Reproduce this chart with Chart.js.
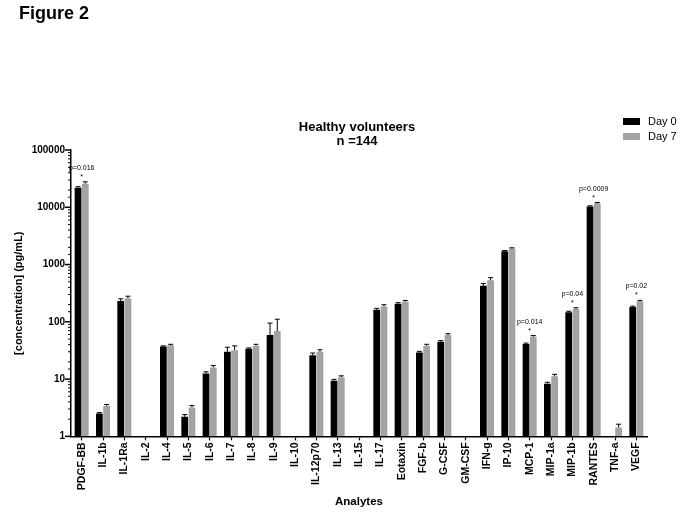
<!DOCTYPE html>
<html lang="en">
<head>
  <meta charset="UTF-8" />
  <title>Figure 2 | Healthy volunteers</title>
  <script src="https://cdn.jsdelivr.net/npm/chart.js"></script>
  <style>
    html, body { margin: 0; padding: 0; background: #fff; }
    .wrap { position: relative; width: 683px; height: 512px; font-family: "Liberation Sans", Arial, sans-serif; color: #000; }
    .wrap canvas { position: absolute; left: 0; top: 0; }
    .fig { position: absolute; left: 19px; top: 4px; font-size: 18px; font-weight: bold; line-height: 18px; }
    .title { position: absolute; left: 257px; width: 200px; top: 120px; text-align: center; font-size: 13px; font-weight: bold; line-height: 14px; }
    .legend { position: absolute; left: 623px; top: 114px; font-size: 11px; line-height: 15px; }
    .legend div { display: flex; align-items: center; }
    .legend span.box { display: inline-block; width: 17px; height: 7px; margin-right: 8px; }
  </style>
</head>
<body>
  <div class="wrap">
    <canvas id="cytoChart" width="683" height="512"></canvas>
    <div class="fig">Figure 2</div>
    <div class="title">Healthy volunteers<br>n =144</div>
    <div class="legend">
      <div><span class="box" style="background:#000"></span>Day 0</div>
      <div><span class="box" style="background:#a3a3a3"></span>Day 7</div>
    </div>
  </div>

  <script>
    // values (pg/mL, log scale); null = not detected
    const analytes = ['PDGF-BB', 'IL-1b', 'IL-1Ra', 'IL-2', 'IL-4', 'IL-5', 'IL-6', 'IL-7', 'IL-8', 'IL-9',
      'IL-10', 'IL-12p70', 'IL-13', 'IL-15', 'IL-17', 'Eotaxin', 'FGF-b', 'G-CSF', 'GM-CSF', 'IFN-g',
      'IP-10', 'MCP-1', 'MIP-1a', 'MIP-1b', 'RANTES', 'TNF-a', 'VEGF'];

    const day0 = [22000, 2.5, 230, null, 37, 2.2, 12.5, 30, 34, 59,
      null, 26, 9.4, null, 162, 207, 29, 45, null, 425,
      1700, 41, 8.3, 147, 10300, null, 182];
    const day7 = [25800, 3.4, 255, null, 39, 3.2, 16, 32, 38, 69,
      null, 30, 10.8, null, 185, 225, 38, 59, null, 530,
      1900, 55, 11.2, 168, 11700, 1.43, 228];

    // SEM (upper bar only)
    const day0Err = [900, 0.1, 22, null, 1, 0.2, 0.9, 6, 1, 36,
      null, 2.5, 0.5, null, 10, 9, 1.5, 2, null, 40,
      60, 1.5, 0.5, 6, 300, null, 6];
    const day7Err = [2000, 0.2, 25, null, 1.5, 0.25, 1.3, 6, 2.5, 42,
      null, 2.5, 0.6, null, 14, 11, 2.5, 3, null, 60,
      60, 2.5, 0.9, 8, 400, 0.2, 9];

    const sigAnalytes = ['PDGF-BB', 'MCP-1', 'MIP-1b', 'RANTES', 'VEGF'];
    const sigP = ['p=0.016', 'p=0.014', 'p=0.04', 'p=0.0009', 'p=0.02'];

    const FONT = '"Liberation Sans", Arial, sans-serif';

    function isDecade(v) {
      const l = Math.log10(v);
      return Math.abs(l - Math.round(l)) < 1e-9;
    }

    // minor y ticks, error bars and p-value labels
    const extras = {
      id: 'extras',
      afterDatasetsDraw(chart) {
        const ctx = chart.ctx;
        const xs = chart.scales.x, ys = chart.scales.y;
        ctx.save();
        ctx.strokeStyle = '#000';
        ctx.fillStyle = '#000';

        ys.ticks.forEach(t => {
          const py = ys.getPixelForValue(t.value);
          const major = isDecade(t.value);
          ctx.lineWidth = major ? 1.5 : 1;
          ctx.beginPath();
          ctx.moveTo(ys.right, py);
          ctx.lineTo(ys.right - (major ? 6 : 3), py);
          ctx.stroke();
        });

        ctx.lineWidth = 1;
        [day0Err, day7Err].forEach((errs, di) => {
          const vals = chart.data.datasets[di].data;
          chart.getDatasetMeta(di).data.forEach((bar, i) => {
            if (vals[i] == null || errs[i] == null) return;
            const top = ys.getPixelForValue(vals[i] + errs[i]);
            ctx.beginPath();
            ctx.moveTo(bar.x, bar.y);
            ctx.lineTo(bar.x, top);
            ctx.moveTo(bar.x - 2.5, top);
            ctx.lineTo(bar.x + 2.5, top);
            ctx.stroke();
          });
        });

        ctx.font = '7px ' + FONT;
        ctx.textAlign = 'center';
        ctx.textBaseline = 'alphabetic';
        sigAnalytes.forEach((name, k) => {
          const i = analytes.indexOf(name);
          const cx = xs.getPixelForValue(i);
          const top = Math.min(
            ys.getPixelForValue(day0[i] + (day0Err[i] || 0)),
            ys.getPixelForValue(day7[i] + (day7Err[i] || 0)));
          ctx.fillText(sigP[k], cx, top - 12);
          ctx.fillText('*', cx, top - 3);
        });
        ctx.restore();
      }
    };

    const ctx = document.getElementById('cytoChart').getContext('2d');

    new Chart(ctx, {
      type: 'bar',
      data: {
        labels: analytes,
        datasets: [
          { label: 'Day 0', data: day0, backgroundColor: '#000000', categoryPercentage: 0.68, barPercentage: 0.93 },
          { label: 'Day 7', data: day7, backgroundColor: '#a3a3a3', categoryPercentage: 0.68, barPercentage: 0.93 }
        ]
      },
      options: {
        responsive: false,
        animation: false,
        layout: { padding: { top: 150, left: 10, right: 36, bottom: 3 } },
        plugins: {
          legend: { display: false },
          title: { display: false },
          tooltip: { enabled: false }
        },
        scales: {
          x: {
            grid: { display: true, drawOnChartArea: false, offset: false, tickLength: 4, tickColor: '#000', tickWidth: 1.2 },
            border: { color: '#000', width: 1.5 },
            ticks: {
              color: '#000', autoSkip: false, maxRotation: 90, minRotation: 90, padding: 2,
              font: { family: FONT, size: 10.5, weight: 'bold' }
            },
            title: {
              display: true, text: 'Analytes', color: '#000',
              font: { family: FONT, size: 11.5, weight: 'bold' },
              padding: { top: 3, bottom: 0 }
            }
          },
          y: {
            type: 'logarithmic',
            min: 1,
            max: 100000,
            afterFit: s => { s.width = 61; },
            grid: { display: false, drawTicks: false },
            border: { color: '#000', width: 1.5 },
            ticks: {
              color: '#000', autoSkip: false, padding: 6,
              font: { family: FONT, size: 10, weight: 'bold' },
              callback: v => isDecade(v) ? String(Math.round(v)) : ''
            },
            title: {
              display: true, text: '[concentration] (pg/mL)', color: '#000',
              font: { family: FONT, size: 11, weight: 'bold' },
              padding: { top: 2.5, bottom: 0 }
            }
          }
        }
      },
      plugins: [extras]
    });
  </script>
</body>
</html>
